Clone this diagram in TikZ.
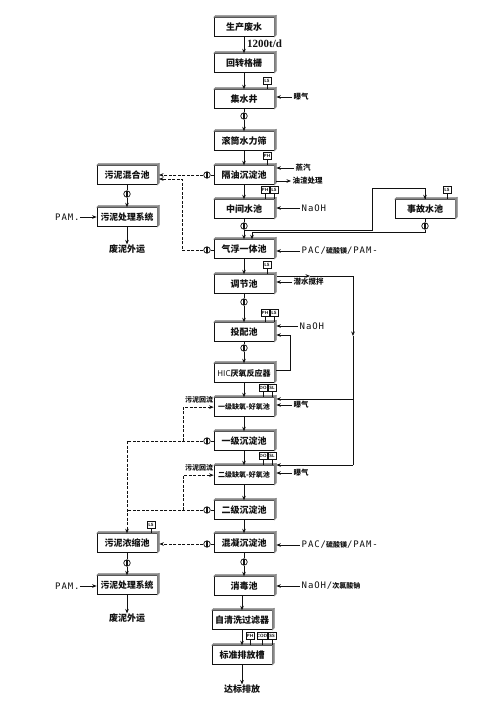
\documentclass[tikz,border=0pt]{standalone}
\usepackage{fontspec}
\setmainfont{Noto Sans CJK SC}
\newfontfamily\cadfont[LetterSpace=10]{DejaVu Sans Mono}
\newfontfamily\rateFont{Liberation Serif}
\usetikzlibrary{arrows.meta, calc}
\definecolor{wwInk}{HTML}{111111}
\definecolor{wwShade}{HTML}{888888}
\tikzset{
  tank/.style={
    draw=wwInk, line width=0.7pt, fill=white, inner sep=0pt, anchor=south,
    minimum width=60, minimum height=19, font=\fontsize{9}{10}\selectfont\bfseries, text=wwInk
  },
  tanksmall/.style={tank, font=\fontsize{7}{8}\selectfont\bfseries},
  pumpnode/.style={
    draw=wwInk, line width=0.7pt, circle, fill=white, inner sep=0pt, minimum size=6.5,
    path picture={\fill[wwInk] ([xshift=-1.2pt]path picture bounding box.south) rectangle ([xshift=1.2pt]path picture bounding box.north);}
  },
  sensor/.style={draw=wwInk, line width=0.6pt, fill=white, inner sep=0pt, minimum height=6.5,
    minimum width=8, font=\fontsize{4.5}{5}\selectfont\bfseries\sffamily},
  flow/.style={-{Stealth[length=4.5pt, width=3.6pt]}, line width=0.7pt, draw=wwInk},
  link/.style={line width=0.7pt, draw=wwInk},
  dflow/.style={flow, dash pattern=on 3pt off 1.5pt},
  dlink/.style={link, dash pattern=on 3pt off 1.5pt},
  lbl/.style={font=\fontsize{7.5}{8}\selectfont\bfseries, text=wwInk, inner sep=1.5pt, anchor=west},
  chem/.style={lbl, font=\fontsize{9}{10}\selectfont\cadfont},
  outlbl/.style={font=\fontsize{9}{10}\selectfont\bfseries, text=wwInk, inner sep=0pt},
}
\newcommand{\cjkin}[1]{{\rmfamily\bfseries\fontsize{7}{8}\selectfont #1}}

\begin{document}
\begin{tikzpicture}[x=1pt, y=-1pt]
  \useasboundingbox (0,0) rectangle (500,707);
  % main line
  \node[tank] (raw) at (244,37) {生产废水};
  \node[tank] (screen) at (244,73) {回转格栅};
  \node[tank] (sump) at (244,109) {集水井};
  \node[tank] (drum) at (244,151) {滚筒水力筛};
  \node[tank] (oil) at (244,185) {隔油沉淀池};
  \node[tank] (mid) at (244,219) {中间水池};
  \node[tank] (flot) at (244,259) {气浮一体池};
  \node[tank] (eq) at (244,294) {调节池};
  \node[tank] (dose) at (244,342) {投配池};
  \node[tank, font=\fontsize{8}{9}\selectfont\bfseries] (hic) at (244,383) {{\mdseries HIC}厌氧反应器};
  \node[tanksmall] (aoa) at (244,417) {一级缺氧-好氧池};
  \node[tank] (seda) at (244,451) {一级沉淀池};
  \node[tanksmall] (aob) at (244,485) {二级缺氧-好氧池};
  \node[tank] (sedb) at (244,520) {二级沉淀池};
  \node[tank] (coag) at (244,553) {混凝沉淀池};
  \node[tank] (disinf) at (244,596) {消毒池};
  \node[tank] (filter) at (242,630) {自清洗过滤器};
  \node[tank] (outlet) at (242,665) {标准排放槽};
  % side tanks
  \node[tank] (mixs) at (127,185) {污泥混合池};
  \node[tank, font=\fontsize{8.8}{10}\selectfont\bfseries] (dewa) at (127,227) {污泥处理系统};
  \node[tank] (thick) at (127,553) {污泥浓缩池};
  \node[tank, font=\fontsize{8.8}{10}\selectfont\bfseries] (dewb) at (127,595) {污泥处理系统};
  \node[tank] (spill) at (425,219) {事故水池};
  \foreach \n in {raw,screen,sump,drum,oil,mid,flot,eq,dose,hic,aoa,seda,aob,sedb,coag,disinf,filter,outlet,mixs,dewa,thick,dewb,spill}{
    \filldraw[wwShade, line width=0.3pt] (\n.north west) -- ++(2,-2) -- ($(\n.north east)+(2,-2)$) -- (\n.north east) -- cycle;
    \filldraw[wwShade, line width=0.3pt] (\n.north east) -- ++(2,-2) -- ($(\n.south east)+(2,-2)$) -- (\n.south east) -- cycle;
  }
  % pumps
  \node[pumpnode] (psump) at (244,116) {};
  \node[pumpnode] (pmid) at (244,226) {};
  \node[pumpnode] (peq) at (244,302) {};
  \node[pumpnode] (pdose) at (244,348) {};
  \node[pumpnode] (pcoag) at (244,562) {};
  \node[pumpnode] (pspill) at (425,226) {};
  \node[pumpnode] (pmixs) at (127,194) {};
  \node[pumpnode] (pthick) at (127,563) {};
  \node[pumpnode] (poil) at (207,175) {};
  \node[pumpnode] (pflot) at (207,250) {};
  \node[pumpnode] (pseda) at (207,441) {};
  \node[pumpnode] (psedb) at (207,510) {};
  \node[pumpnode] (pcoagl) at (207,544) {};
  % sensors
  \foreach \s/\x/\y/\t/\b in {sa/267/81/LS/sump, sb/267/156/PH/oil, sc/265/190/PH/mid, sd/274/190/LS/mid,
      se/267/265/LS/eq, sf/265/313/PH/dose, sg/274/313/LS/dose, sh/263/388/DO/aoa, si/272/388/SL/aoa,
      sj/263/456/DO/aob, sk/272/456/SL/aob, sl/447/190/LS/spill, sm/151/525/LS/thick,
      sn/250/636/PH/outlet, so/262/636/COD/outlet, sp/272/636/SS/outlet}{
    \node[sensor] (\s) at (\x,\y) {\t};
    \draw[link] (\s) -- (\s |- \b.north);
  }
  % main flow
  \foreach \a/\b in {raw/screen, screen/sump, drum/oil, oil/mid, flot/eq, hic/aoa, aoa/seda, seda/aob, aob/sedb, sedb/coag, disinf/filter, filter/outlet}
    \draw[flow] (\a.south -| \b.north) -- (\b.north);
  \foreach \a/\p/\b in {sump/psump/drum, mid/pmid/flot, eq/peq/dose, dose/pdose/hic, coag/pcoag/disinf, mixs/pmixs/dewa, thick/pthick/dewb}{
    \draw[link] (\a) -- (\p);
    \draw[flow] (\p) -- (\b.north);
  }
  \node[outlbl] (wastea) at (127,249) {废泥外运};
  \node[outlbl] (wasteb) at (127,618) {废泥外运};
  \node[outlbl] (final) at (242,689) {达标排放};
  \draw[flow] (dewa) -- (wastea);
  \draw[flow] (dewb) -- (wasteb);
  \draw[flow] (outlet) -- (final);
  \node[lbl, font=\fontsize{11}{12}\selectfont\bfseries\rateFont, inner sep=0pt] (rate) at (247,44) {1200t/d};
  % chemicals
  \foreach \c/\x/\y/\t/\b in {caa/292/97/曝气/sump, cab/294/168/蒸汽/oil, cac/292/282/潜水搅拌/eq,
      cad/292/405/曝气/aoa, cae/292/473/曝气/aob}{
    \node[lbl] (\c) at (\x,\y) {\t};
    \draw[flow] (\c) -- ([xshift=2pt]\b.east |- \c);
  }
  \node[chem] (cna) at (300,208) {NaOH};
  \node[chem] (cnb) at (298,326) {NaOH};
  \node[chem] (cnc) at (300,251) {PAC/\cjkin{硫酸镁}/PAM-};
  \node[chem] (cnd) at (300,545) {PAC/\cjkin{硫酸镁}/PAM-};
  \node[chem] (cne) at (300,586) {NaOH/\cjkin{次氯酸钠}};
  \foreach \c/\b in {cna/mid, cnb/dose, cnc/flot, cnd/coag, cne/disinf}
    \draw[flow] (\c) -- ([xshift=2pt]\b.east |- \c);
  \node[lbl] (slag) at (291,181) {油渣处理};
  \draw[flow] ([xshift=2pt]oil.east |- slag) -- (slag);
  \node[chem, inner sep=0pt] (pama) at (55,217) {PAM.};
  \node[chem, inner sep=0pt] (pamb) at (55,586) {PAM.};
  \draw[flow] (pama) -- (dewa.west |- pama);
  \draw[flow] (pamb) -- (dewb.west |- pamb);
  % spill tank loop
  \coordinate (tee) at (244,230);
  \coordinate (riser) at (372,230);
  \coordinate (over) at (372,188);
  \draw[link] (tee) -- (riser) -- (over) -| (spill.north);
  \draw[flow] (over -| spill.north) -- (spill.north);
  \coordinate (back) at (425,232);
  \coordinate (drop) at (252,232);
  \draw[link] (spill) -- (pspill) -- (back) -- (drop);
  \draw[flow] (drop) -- (drop |- flot.north);
  % return from equalisation tank
  \coordinate (rs) at (277,276);
  \coordinate (rm) at (310,276);
  \coordinate (rc) at (353,276);
  \coordinate (rd) at (353,336);
  \coordinate (ra) at (353,399);
  \coordinate (rb) at (353,465);
  \draw[flow] (rs) -- (rm);
  \draw[link] (rm) -- (rc);
  \draw[flow] (rc) -- (rd);
  \draw[link] (rd) -- (rb);
  \draw[flow] (ra) -- ([xshift=2pt]aoa.east |- ra);
  \draw[flow] (rb) -- ([xshift=2pt]aob.east |- rb);
  % reactor recycle
  \coordinate (fb) at (290,335);
  \draw[flow] ([xshift=2pt,yshift=3pt]hic.east) -| (fb) -- ([xshift=2pt]dose.east |- fb);
  % sludge lines
  \coordinate (ina) at (159,175);
  \coordinate (inb) at (159,179);
  \coordinate (jm) at (182,179);
  \foreach \t/\p in {oil/poil, flot/pflot, seda/pseda, sedb/psedb, coag/pcoagl}
    \draw[link] (\t.west |- \p) -- (\p);
  \draw[dflow] (poil) -- (ina);
  \draw[dflow] (pflot) -| (jm) -- (inb);
  \coordinate (ja) at (183,441);
  \coordinate (jb) at (183,510);
  \draw[dflow] (pseda) -| (thick.north);
  \draw[dflow] (ja) |- (aoa.west);
  \draw[dlink] (psedb) -- (psedb -| thick.north);
  \draw[dflow] (jb) |- (aob.west);
  \draw[dflow] (pcoagl) -- ([xshift=2pt]thick.east |- pcoagl);
  \node[lbl, inner sep=0pt, font=\fontsize{7}{8}\selectfont\bfseries] (reta) at (185,400) {污泥回流};
  \node[lbl, inner sep=0pt, font=\fontsize{7}{8}\selectfont\bfseries] (retb) at (185,468) {污泥回流};
\end{tikzpicture}
\end{document}
